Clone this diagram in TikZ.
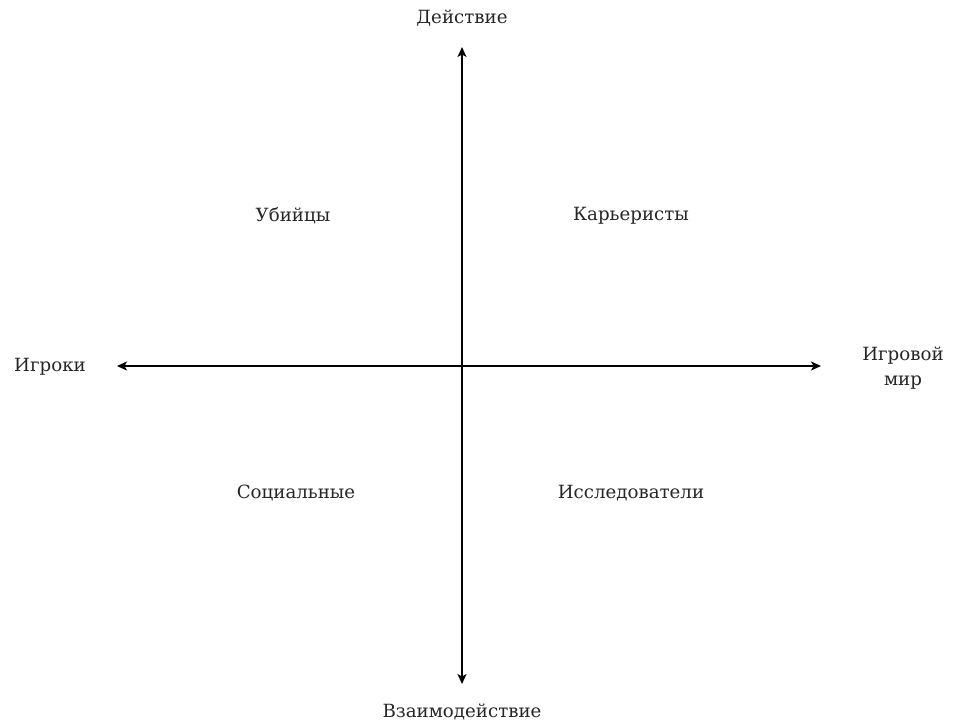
\documentclass[tikz,border=0pt]{standalone}
\usepackage{fontspec}
\setmainfont{DejaVu Serif}
\usetikzlibrary{arrows.meta}
\begin{document}
\begin{tikzpicture}[x=1pt,y=-1pt,
  lbl/.style={font=\fontsize{18.2}{25}\selectfont, text=black!85, inner sep=0pt, align=center},
  axis/.style={line width=1.3pt, {Stealth[length=10pt,width=9pt,inset=2.5pt]}-{Stealth[length=10pt,width=9pt,inset=2.5pt]}}]
\useasboundingbox (0,0) rectangle (954,721);
\coordinate (top) at (462,47);
\coordinate (bot) at (462,684);
\coordinate (lft) at (117,366);
\coordinate (rgt) at (821,366);
\draw[axis] (bot) -- (top);
\draw[axis] (lft) -- (rgt);
\node[lbl] (act) at (462,18) {Действие};
\node[lbl] (inter) at (462,712) {Взаимодействие};
\node[lbl] (players) at (50,367) {Игроки};
\node[lbl] (world) at (903,368) {Игровой\\мир};
\node[lbl] (killers) at (293,216) {Убийцы};
\node[lbl] (achievers) at (631,216) {Карьеристы};
\node[lbl] (social) at (296,493) {Социальные};
\node[lbl] (explorers) at (631,493) {Исследователи};
\end{tikzpicture}
\end{document}
